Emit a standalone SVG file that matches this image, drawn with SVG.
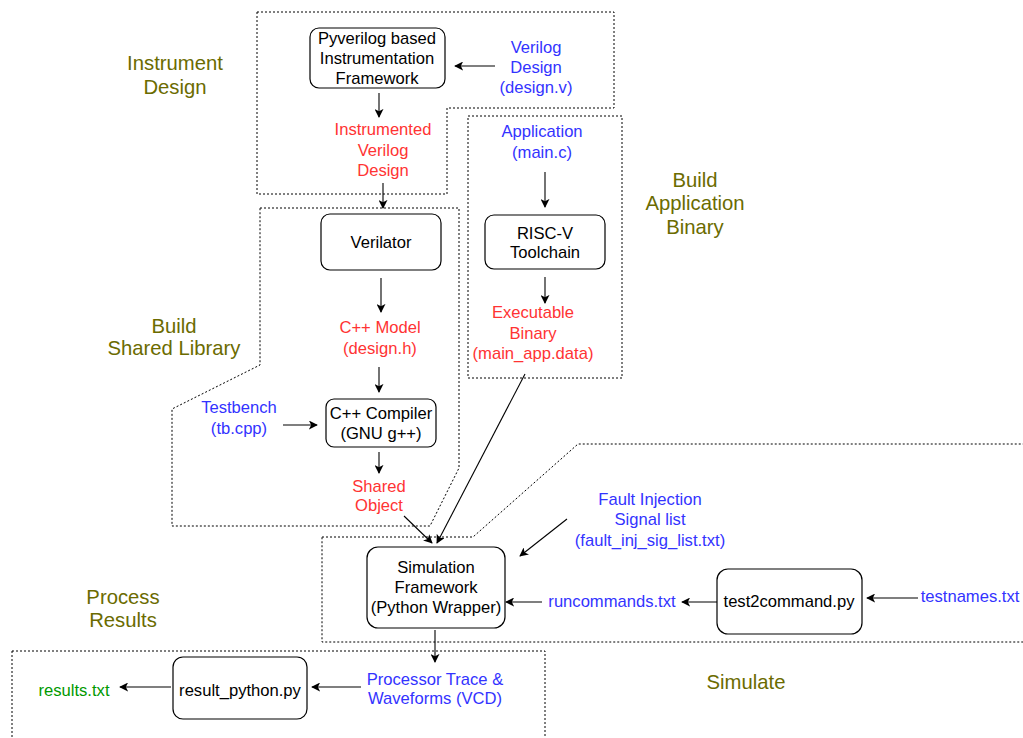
<svg xmlns="http://www.w3.org/2000/svg" width="1023" height="738" viewBox="0 0 1023 738">
  <style>
    .bg { fill: #ffffff; }
    .region { fill: none; stroke: #000000; stroke-width: 1; stroke-dasharray: 2 2; }
    .node { fill: #ffffff; stroke: #000000; stroke-width: 1.2; }
    .edge { fill: none; stroke: #000000; stroke-width: 1.1; marker-end: url(#arrow); }
    text { font-family: "Liberation Sans", Arial, Helvetica, sans-serif; font-size: 16.6px; text-anchor: middle; }
    .blk { fill: #000000; }
    .blue { fill: #3333ff; }
    .red { fill: #ff3333; }
    .green { fill: #009900; }
    .label { fill: #6b6b00; font-size: 20.3px; }
  </style>
  <defs>
    <marker id="arrow" viewBox="0 0 10 10" refX="9" refY="5" markerWidth="9" markerHeight="9" markerUnits="userSpaceOnUse" orient="auto">
      <path d="M0,0 L10,5 L0,10 L2.5,5 z" fill="#000000"/>
    </marker>
  </defs>

  <rect class="bg" x="0" y="0" width="1023" height="738"/>

  <!-- stage outlines -->
  <g id="regions">
    <polygon class="region" points="257,12 614,12 614,108 447,108 447,194 257,194"/>
    <rect class="region" x="468" y="116" width="154" height="262"/>
    <polygon class="region" points="260,208 459,208 459,468 430,526 172,526 172,409 260,365"/>
    <polygon class="region" points="322,537 473,537 578,444 1030,444 1030,642 322,642"/>
    <polygon class="region" points="12,651 545,651 545,745 12,745"/>
  </g>

  <!-- stage labels -->
  <g id="stage-labels">
    <text class="label" x="175" y="70">Instrument</text>
    <text class="label" x="175" y="94">Design</text>
    <text class="label" x="695" y="187">Build</text>
    <text class="label" x="695" y="210">Application</text>
    <text class="label" x="695" y="234">Binary</text>
    <text class="label" x="174" y="333">Build</text>
    <text class="label" x="174" y="355">Shared Library</text>
    <text class="label" x="123" y="604">Process</text>
    <text class="label" x="123" y="627">Results</text>
    <text class="label" x="746" y="689">Simulate</text>
  </g>

  <!-- connectors -->
  <g id="connectors">
    <line class="edge" x1="495" y1="66" x2="455" y2="66"/>
    <line class="edge" x1="379" y1="93" x2="379" y2="117"/>
    <line class="edge" x1="383" y1="183" x2="383" y2="208"/>
    <line class="edge" x1="381" y1="278" x2="381" y2="312"/>
    <line class="edge" x1="379" y1="367" x2="379" y2="392"/>
    <line class="edge" x1="283" y1="425" x2="317" y2="425"/>
    <line class="edge" x1="379" y1="452" x2="379" y2="473"/>
    <line class="edge" x1="404" y1="516" x2="432" y2="543"/>
    <line class="edge" x1="525" y1="374" x2="437" y2="543"/>
    <line class="edge" x1="567" y1="519" x2="520" y2="556"/>
    <line class="edge" x1="542" y1="602" x2="506" y2="602"/>
    <line class="edge" x1="717" y1="602" x2="682" y2="602"/>
    <line class="edge" x1="918" y1="598" x2="867" y2="598"/>
    <line class="edge" x1="435" y1="630" x2="435" y2="662"/>
    <line class="edge" x1="361" y1="687" x2="312" y2="687"/>
    <line class="edge" x1="171" y1="687" x2="120" y2="687"/>
    <line class="edge" x1="545" y1="172" x2="545" y2="207"/>
    <line class="edge" x1="545" y1="277" x2="545" y2="303"/>
  </g>

  <!-- tools -->
  <g id="pyverilog">
    <rect class="node" x="310" y="28" width="135" height="60" rx="9"/>
    <text class="blk" x="377" y="44">Pyverilog based</text>
    <text class="blk" x="377" y="64">Instrumentation</text>
    <text class="blk" x="377" y="84">Framework</text>
  </g>
  <g id="verilator">
    <rect class="node" x="321" y="214" width="120" height="56" rx="9"/>
    <text class="blk" x="381" y="248">Verilator</text>
  </g>
  <g id="cpp-compiler">
    <rect class="node" x="326" y="399" width="110" height="48" rx="8"/>
    <text class="blk" x="381" y="419">C++ Compiler</text>
    <text class="blk" x="381" y="439">(GNU g++)</text>
  </g>
  <g id="riscv-toolchain">
    <rect class="node" x="485" y="215" width="120" height="54" rx="9"/>
    <text class="blk" x="545" y="239">RISC-V</text>
    <text class="blk" x="545" y="258">Toolchain</text>
  </g>
  <g id="simulation-framework">
    <rect class="node" x="367" y="547" width="138" height="81" rx="11"/>
    <text class="blk" x="436" y="573">Simulation</text>
    <text class="blk" x="436" y="593">Framework</text>
    <text class="blk" x="436" y="613">(Python Wrapper)</text>
  </g>
  <g id="test2command">
    <rect class="node" x="717" y="569" width="145" height="65" rx="11"/>
    <text class="blk" x="789" y="607">test2command.py</text>
  </g>
  <g id="result-python">
    <rect class="node" x="173" y="657" width="134" height="62" rx="10"/>
    <text class="blk" x="240" y="696">result_python.py</text>
  </g>

  <!-- data items -->
  <g id="verilog-design">
    <text class="blue" x="536" y="53">Verilog</text>
    <text class="blue" x="536" y="73">Design</text>
    <text class="blue" x="536" y="93">(design.v)</text>
  </g>
  <g id="instrumented-design">
    <text class="red" x="383" y="135">Instrumented</text>
    <text class="red" x="383" y="156">Verilog</text>
    <text class="red" x="383" y="176">Design</text>
  </g>
  <g id="application">
    <text class="blue" x="542" y="137">Application</text>
    <text class="blue" x="542" y="158">(main.c)</text>
  </g>
  <g id="executable-binary">
    <text class="red" x="533" y="318">Executable</text>
    <text class="red" x="533" y="339">Binary</text>
    <text class="red" x="533" y="359">(main_app.data)</text>
  </g>
  <g id="cpp-model">
    <text class="red" x="380" y="333">C++ Model</text>
    <text class="red" x="380" y="354">(design.h)</text>
  </g>
  <g id="testbench">
    <text class="blue" x="239" y="413">Testbench</text>
    <text class="blue" x="239" y="434">(tb.cpp)</text>
  </g>
  <g id="shared-object">
    <text class="red" x="379" y="492">Shared</text>
    <text class="red" x="379" y="511">Object</text>
  </g>
  <g id="fault-list">
    <text class="blue" x="650" y="505">Fault Injection</text>
    <text class="blue" x="650" y="525">Signal list</text>
    <text class="blue" x="650" y="546">(fault_inj_sig_list.txt)</text>
  </g>
  <g id="runcommands">
    <text class="blue" x="612" y="607">runcommands.txt</text>
  </g>
  <g id="testnames">
    <text class="blue" x="970" y="602">testnames.txt</text>
  </g>
  <g id="trace-vcd">
    <text class="blue" x="435" y="685">Processor Trace &amp;</text>
    <text class="blue" x="435" y="704">Waveforms (VCD)</text>
  </g>
  <g id="results">
    <text class="green" x="74" y="696">results.txt</text>
  </g>
</svg>
